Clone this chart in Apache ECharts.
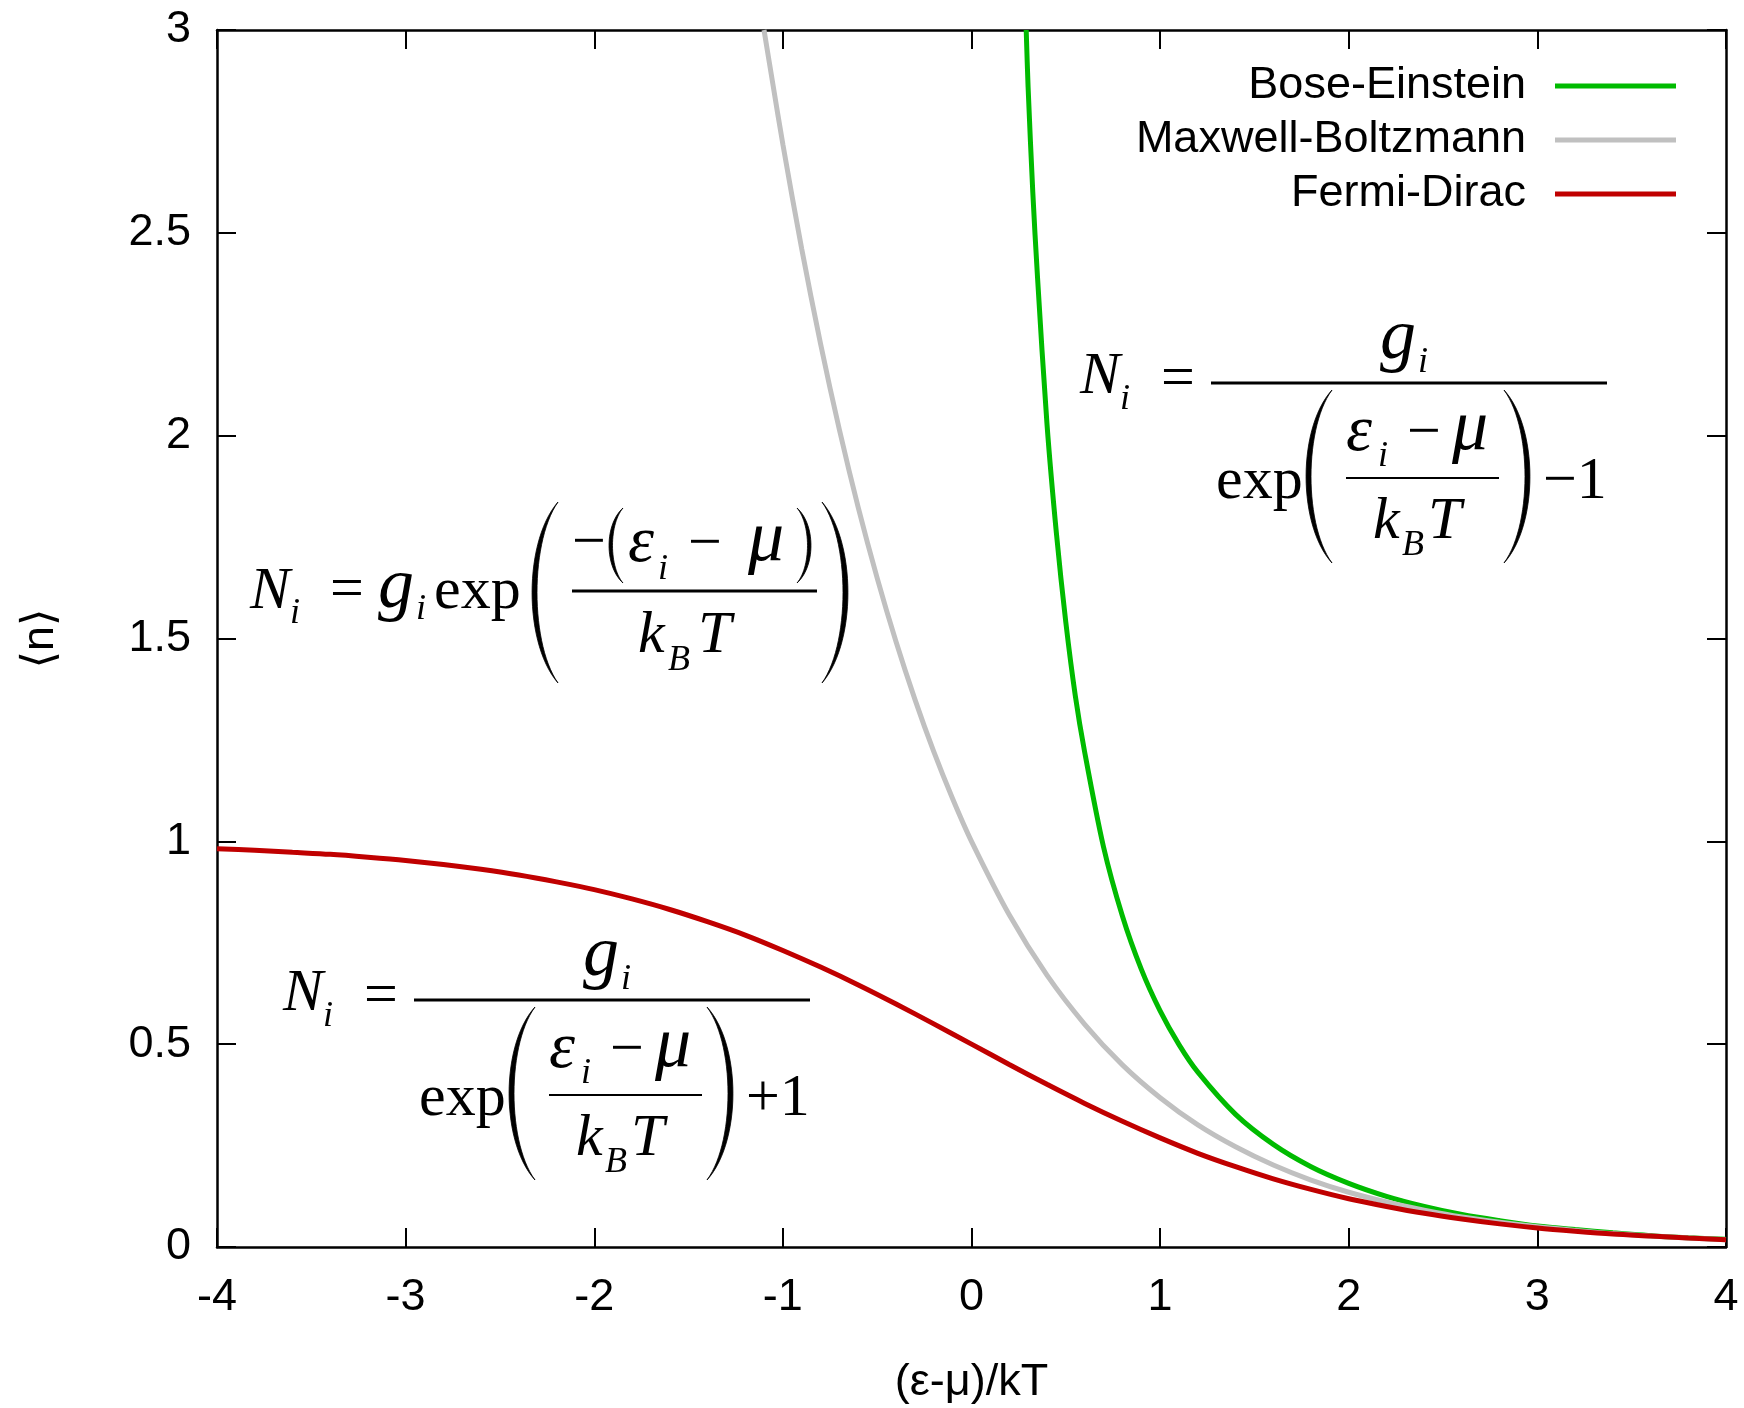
<!DOCTYPE html>
<html lang="en">
<head>
<meta charset="UTF-8">
<title>Quantum distributions</title>
<script src="https://cdn.jsdelivr.net/npm/echarts@6/dist/echarts.min.js"></script>
<style>
  html, body { margin: 0; padding: 0; background: #fff; }
  #main { width: 1744px; height: 1408px; }
</style>
</head>
<body>
<div id="main"></div>
<script>
// values
var seriesNames = ['Bose-Einstein', 'Maxwell-Boltzmann', 'Fermi-Dirac'];
var xTicks = [-4, -3, -2, -1, 0, 1, 2, 3, 4];
var yTicks = [0, 0.5, 1, 1.5, 2, 2.5, 3];

var xBose = [0.29, 0.3, 0.325, 0.35, 0.4, 0.45, 0.5, 0.55, 0.6, 0.7, 0.8, 0.9, 1.0, 1.1, 1.2, 1.4, 1.6, 1.8, 2.0,
  2.2, 2.4, 2.6, 2.8, 3.0, 3.2, 3.4, 3.6, 3.8, 4.0];
var nBose = [3.0, 2.86, 2.60, 2.39, 2.03, 1.76, 1.54, 1.36, 1.22, 0.986, 0.816, 0.685, 0.582, 0.499, 0.431, 0.327,
  0.253, 0.198, 0.157, 0.125, 0.100, 0.080, 0.065, 0.052, 0.043, 0.035, 0.028, 0.023, 0.019];

var xBoltz = [-1.1, -1.05, -1.0, -0.9, -0.8, -0.7, -0.6, -0.5, -0.4, -0.3, -0.2, -0.1, 0, 0.2, 0.4, 0.6, 0.8, 1.0,
  1.2, 1.4, 1.6, 1.8, 2.0, 2.2, 2.4, 2.6, 2.8, 3.0, 3.2, 3.4, 3.6, 3.8, 4.0];
var nBoltz = [3.0, 2.858, 2.718, 2.460, 2.226, 2.014, 1.822, 1.649, 1.492, 1.350, 1.221, 1.105, 1.0, 0.819, 0.670,
  0.549, 0.449, 0.368, 0.301, 0.247, 0.202, 0.165, 0.135, 0.111, 0.091, 0.074, 0.061, 0.050, 0.041, 0.033, 0.027,
  0.022, 0.018];

var xFermi = [-4, -3.8, -3.6, -3.4, -3.2, -3, -2.8, -2.6, -2.4, -2.2, -2, -1.8, -1.6, -1.4, -1.2, -1, -0.8, -0.6,
  -0.4, -0.2, 0, 0.2, 0.4, 0.6, 0.8, 1, 1.2, 1.4, 1.6, 1.8, 2, 2.2, 2.4, 2.6, 2.8, 3, 3.2, 3.4, 3.6, 3.8, 4];
var nFermi = [0.982, 0.978, 0.973, 0.968, 0.961, 0.953, 0.943, 0.931, 0.917, 0.900, 0.881, 0.858, 0.832, 0.802,
  0.769, 0.731, 0.690, 0.646, 0.599, 0.550, 0.500, 0.450, 0.401, 0.354, 0.310, 0.269, 0.231, 0.198, 0.168, 0.142,
  0.119, 0.100, 0.083, 0.069, 0.057, 0.047, 0.039, 0.032, 0.027, 0.022, 0.018];

var colors = ['#00bb00', '#c0c0c0', '#c00000'];

var SANS = '"Liberation Sans", Arial, "DejaVu Sans", sans-serif';
var SERIF = '"Liberation Serif", "Times New Roman", serif';
var S = 60, SUB = 36, GR = 66, MU = 72;

function pairs(xs, ys) {
  return xs.map(function (x, i) { return [x, ys[i]]; });
}

// text placed by its baseline
function tx(str, x, base, size, italic) {
  return {
    type: 'text', silent: true, z: 50,
    style: {
      text: str, x: x, y: base - size * 0.34, fill: '#000',
      fontSize: size, fontFamily: SERIF, fontStyle: italic ? 'italic' : 'normal',
      textAlign: 'left', textVerticalAlign: 'middle'
    }
  };
}

function hbar(x1, x2, y, w) {
  return {
    type: 'line', silent: true, z: 50,
    shape: { x1: x1, y1: y, x2: x2, y2: y },
    style: { stroke: '#000', lineWidth: w }
  };
}

// tall parenthesis as a filled crescent
function paren(x, top, h, w, t, right) {
  var pts = [], n = 30;
  var co = -0.33 * w, ci = (t - 0.25 * w) / 0.75;
  function bez(c, s) {
    var u = 1 - s;
    return [w * (u * u * u + s * s * s) + c * 3 * s * u,
            h * (3 * s * u * u * 0.22 + 3 * s * s * u * 0.78 + s * s * s)];
  }
  var i;
  for (i = 0; i <= n; i++) pts.push(bez(co, i / n));
  for (i = n; i >= 0; i--) pts.push(bez(ci, i / n));
  pts = pts.map(function (q) {
    return [right ? x + w - q[0] : x + q[0], top + q[1]];
  });
  return {
    type: 'polygon', silent: true, z: 50,
    shape: { points: pts },
    style: { fill: '#000', stroke: '#000', lineWidth: 0.8 }
  };
}

// N_i = g_i / (exp((e_i - mu)/k_B T) +/- 1)
function fracFormula(ox, oy, sign) {
  return [
    tx('N', ox, oy + 15, S, true),
    tx('i', ox + 40, oy + 29, SUB, true),
    tx('=', ox + 81, oy + 18, S, false),
    hbar(ox + 131, ox + 527, oy, 3),
    tx('g', ox + 300, oy - 19, MU, true),
    tx('i', ox + 338, oy - 8, SUB, true),
    tx('exp', ox + 136, oy + 120, S, false),
    paren(ox + 226, oy + 7, 173, 26, 5, false),
    tx('ε', ox + 266, oy + 72, GR, true),
    tx('i', ox + 298, oy + 86, SUB, true),
    tx('−', ox + 327, oy + 72, S, false),
    tx('μ', ox + 372, oy + 72, MU, true),
    hbar(ox + 266, ox + 419, oy + 95, 2),
    tx('k', ox + 293, oy + 160, S, true),
    tx('B', ox + 322, oy + 175, SUB, true),
    tx('T', ox + 348, oy + 160, S, true),
    paren(ox + 424, oy + 7, 173, 26, 5, true),
    tx(sign + '1', ox + 463, oy + 120, S, false)
  ];
}

var boltzFormula = [
  tx('N', 250, 613, S, true),
  tx('i', 290, 626, SUB, true),
  tx('=', 330, 612, S, false),
  tx('g', 378, 613, MU, true),
  tx('i', 416, 622, SUB, true),
  tx('exp', 434, 613, S, false),
  paren(532, 502, 181, 26, 5, false),
  tx('−', 572, 565, S, false),
  paren(609, 508, 75, 14, 3.5, false),
  tx('ε', 628, 566, GR, true),
  tx('i', 658, 582, SUB, true),
  tx('−', 688, 566, S, false),
  tx('μ', 748, 566, MU, true),
  paren(797, 508, 75, 14, 3.5, true),
  hbar(572, 817, 591, 3),
  tx('k', 638, 657, S, true),
  tx('B', 668, 673, SUB, true),
  tx('T', 698, 657, S, true),
  paren(822, 502, 181, 26, 5, true)
];

var chart = echarts.init(document.getElementById('main'));

var axisLine = { onZero: false, lineStyle: { color: '#000', width: 2.5 } };
var axisTick = { inside: true, length: 19, lineStyle: { color: '#000', width: 2 } };
var labelStyle = { color: '#000', fontSize: 45, fontFamily: SANS };

var option = {
  animation: false,
  backgroundColor: '#fff',
  grid: { left: 217, right: 18, top: 30, bottom: 161, containLabel: false, outerBoundsMode: 'none' },
  legend: {
    orient: 'vertical', right: 68, top: 63, align: 'right', padding: 0,
    itemWidth: 121, itemHeight: 5, itemGap: 8, icon: 'rect', selectedMode: false,
    textStyle: { color: '#000', fontSize: 45, fontFamily: SANS, lineHeight: 46, padding: [0, 24, 0, 0] },
    data: seriesNames
  },
  xAxis: [{
    type: 'value', min: xTicks[0], max: xTicks[xTicks.length - 1], interval: 1,
    position: 'bottom',
    name: '(ε-μ)/kT', nameLocation: 'middle', nameGap: 113,
    nameTextStyle: labelStyle,
    axisLine: axisLine, axisTick: axisTick, splitLine: { show: false },
    axisLabel: Object.assign({ margin: 28, showMinLabel: true, showMaxLabel: true }, labelStyle)
  }, {
    type: 'value', min: xTicks[0], max: xTicks[xTicks.length - 1], interval: 1,
    position: 'top',
    axisLine: axisLine, axisTick: axisTick, splitLine: { show: false },
    axisLabel: { show: false }
  }],
  yAxis: [{
    type: 'value', min: yTicks[0], max: yTicks[yTicks.length - 1], interval: 0.5,
    position: 'left',
    name: '⟨n⟩', nameLocation: 'middle', nameGap: 154,
    nameTextStyle: labelStyle,
    axisLine: axisLine, axisTick: axisTick, splitLine: { show: false },
    axisLabel: Object.assign({ margin: 26, showMinLabel: true, showMaxLabel: true }, labelStyle)
  }, {
    type: 'value', min: yTicks[0], max: yTicks[yTicks.length - 1], interval: 0.5,
    position: 'right',
    axisLine: axisLine, axisTick: axisTick, splitLine: { show: false },
    axisLabel: { show: false }
  }],
  series: [
    { name: seriesNames[0], data: pairs(xBose, nBose), color: colors[0] },
    { name: seriesNames[1], data: pairs(xBoltz, nBoltz), color: colors[1] },
    { name: seriesNames[2], data: pairs(xFermi, nFermi), color: colors[2] }
  ].map(function (s) {
    return Object.assign({
      type: 'line', showSymbol: false, symbol: 'none', smooth: 0.3, clip: true,
      lineStyle: { width: 5, color: s.color }, itemStyle: { color: s.color }
    }, s);
  }),
  graphic: [].concat(
    fracFormula(1080, 383, '−'),
    fracFormula(283, 1000, '+'),
    boltzFormula
  )
};

chart.setOption(option);
</script>
</body>
</html>
